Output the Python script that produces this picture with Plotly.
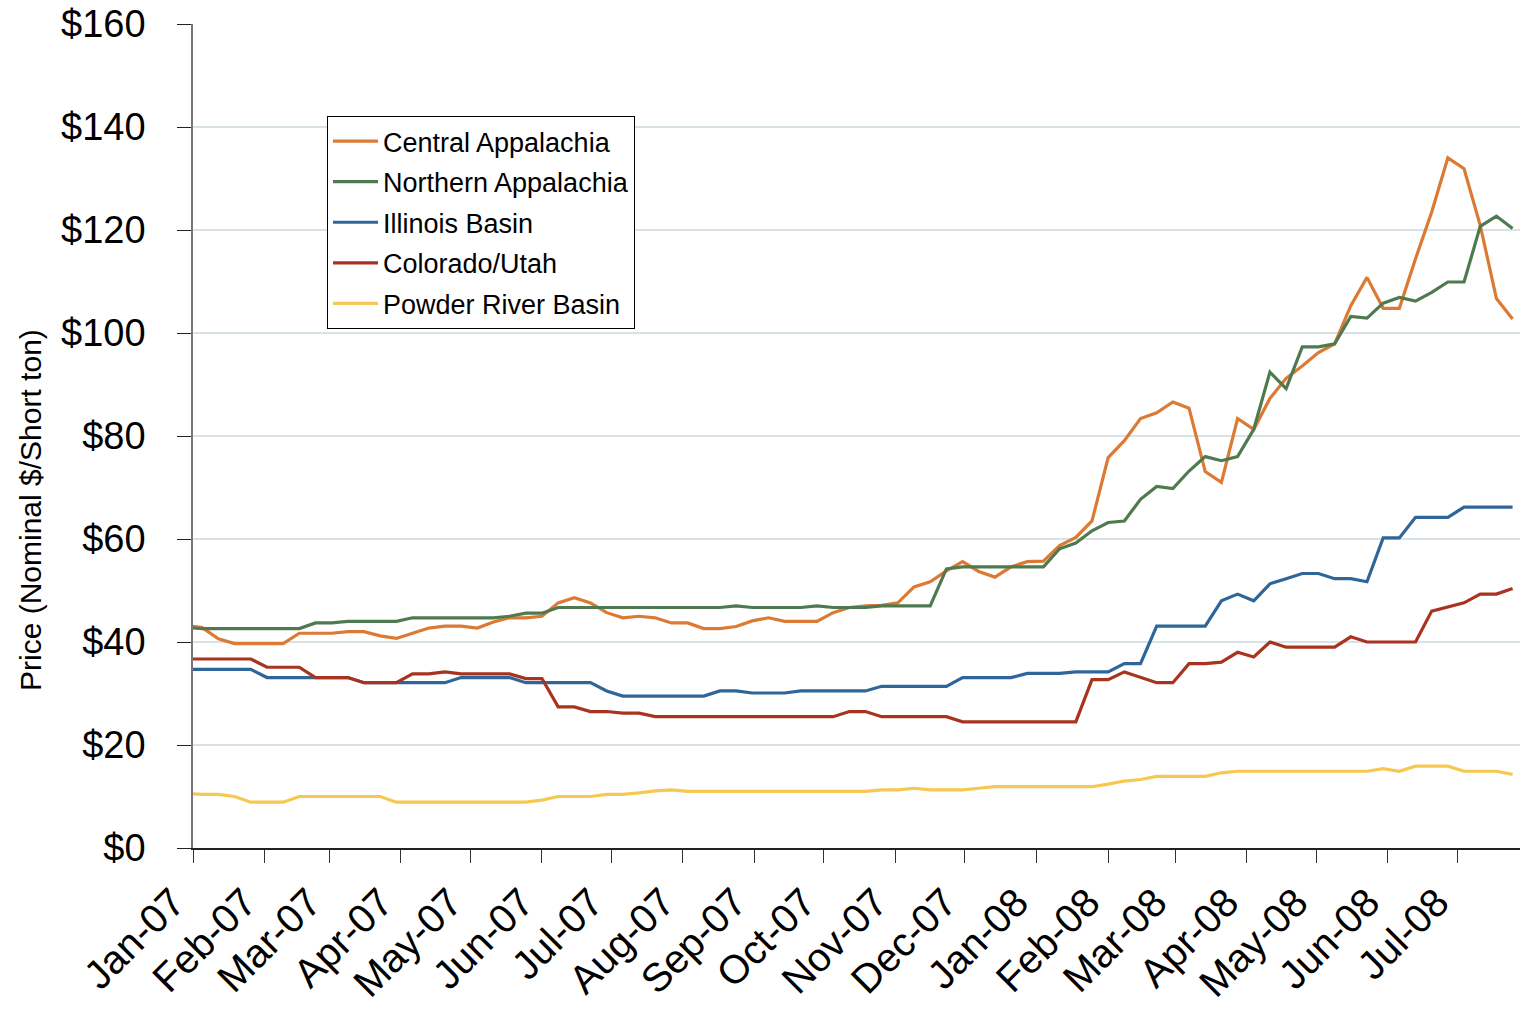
import pandas as pd
import plotly.graph_objects as go

# Weekly observation dates (Fridays)
week_dates = pd.date_range(start="2006-12-29", periods=83, freq="7D")

tick_dates = pd.date_range(start="2007-01-01", end="2008-07-01", freq="MS")
tick_labels = ["Jan-07", "Feb-07", "Mar-07", "Apr-07", "May-07", "Jun-07", "Jul-07",
               "Aug-07", "Sep-07", "Oct-07", "Nov-07", "Dec-07", "Jan-08", "Feb-08",
               "Mar-08", "Apr-08", "May-08", "Jun-08", "Jul-08"]

central_appalachia = [
    43.2, 42.8, 40.6, 39.7, 39.7, 39.7, 39.7, 41.7, 41.7, 41.7,
    42.0, 42.0, 41.2, 40.7, 41.7, 42.7, 43.1, 43.1, 42.7, 43.9,
    44.7, 44.7, 45.0, 47.6, 48.6, 47.6, 45.7, 44.7, 45.0, 44.7,
    43.7, 43.7, 42.6, 42.6, 43.0, 44.1, 44.7, 44.0, 44.0, 44.0,
    45.7, 46.7, 47.0, 47.1, 47.6, 50.7, 51.7, 53.8, 55.6, 53.7,
    52.6, 54.6, 55.6, 55.7, 58.7, 60.3, 63.5, 75.8, 79.1, 83.4,
    84.5, 86.6, 85.4, 73.1, 71.0, 83.4, 81.3, 87.3, 91.2, 93.6,
    96.2, 97.9, 105.3, 110.8, 104.8, 104.8, 114.4, 123.5, 134.0, 131.9,
    120.9, 106.7, 102.7]

northern_appalachia = [
    42.8, 42.6, 42.6, 42.6, 42.6, 42.6, 42.6, 42.6, 43.7, 43.7,
    44.0, 44.0, 44.0, 44.0, 44.7, 44.7, 44.7, 44.7, 44.7, 44.7,
    45.0, 45.6, 45.6, 46.7, 46.7, 46.7, 46.7, 46.7, 46.7, 46.7,
    46.7, 46.7, 46.7, 46.7, 47.0, 46.7, 46.7, 46.7, 46.7, 47.0,
    46.7, 46.7, 46.7, 47.0, 47.0, 47.0, 47.0, 54.2, 54.6, 54.6,
    54.6, 54.6, 54.6, 54.6, 58.1, 59.2, 61.6, 63.2, 63.5, 67.7,
    70.2, 69.8, 73.2, 76.0, 75.2, 76.0, 81.3, 92.4, 89.2, 97.3,
    97.3, 97.9, 103.2, 102.9, 105.8, 106.9, 106.2, 107.9, 109.9, 109.9,
    120.7, 122.7, 120.3]

illinois_basin = [
    34.7, 34.7, 34.7, 34.7, 34.7, 33.1, 33.1, 33.1, 33.1, 33.1,
    33.1, 32.1, 32.1, 32.1, 32.1, 32.1, 32.1, 33.1, 33.1, 33.1,
    33.1, 32.1, 32.1, 32.1, 32.1, 32.1, 30.5, 29.5, 29.5, 29.5,
    29.5, 29.5, 29.5, 30.5, 30.5, 30.1, 30.1, 30.1, 30.5, 30.5,
    30.5, 30.5, 30.5, 31.4, 31.4, 31.4, 31.4, 31.4, 33.1, 33.1,
    33.1, 33.1, 33.9, 33.9, 33.9, 34.2, 34.2, 34.2, 35.8, 35.8,
    43.1, 43.1, 43.1, 43.1, 48.0, 49.3, 48.0, 51.3, 52.3, 53.3,
    53.3, 52.3, 52.3, 51.7, 60.2, 60.2, 64.2, 64.2, 64.2, 66.2,
    66.2, 66.2, 66.2]

colorado_utah = [
    36.7, 36.7, 36.7, 36.7, 36.7, 35.1, 35.1, 35.1, 33.1, 33.1,
    33.1, 32.1, 32.1, 32.1, 33.8, 33.8, 34.2, 33.8, 33.8, 33.8,
    33.8, 32.9, 32.9, 27.4, 27.4, 26.5, 26.5, 26.2, 26.2, 25.5,
    25.5, 25.5, 25.5, 25.5, 25.5, 25.5, 25.5, 25.5, 25.5, 25.5,
    25.5, 26.5, 26.5, 25.5, 25.5, 25.5, 25.5, 25.5, 24.5, 24.5,
    24.5, 24.5, 24.5, 24.5, 24.5, 24.5, 32.7, 32.7, 34.2, 33.1,
    32.1, 32.1, 35.8, 35.8, 36.1, 38.0, 37.1, 40.0, 39.0, 39.0,
    39.0, 39.0, 41.0, 40.0, 40.0, 40.0, 40.0, 46.0, 46.8, 47.6,
    49.3, 49.3, 50.4]

powder_river_basin = [
    10.6, 10.4, 10.4, 10.0, 8.9, 8.9, 8.9, 10.0, 10.0, 10.0,
    10.0, 10.0, 10.0, 8.9, 8.9, 8.9, 8.9, 8.9, 8.9, 8.9,
    8.9, 8.9, 9.3, 10.0, 10.0, 10.0, 10.4, 10.4, 10.7, 11.1,
    11.3, 11.0, 11.0, 11.0, 11.0, 11.0, 11.0, 11.0, 11.0, 11.0,
    11.0, 11.0, 11.0, 11.3, 11.3, 11.6, 11.3, 11.3, 11.3, 11.6,
    11.9, 11.9, 11.9, 11.9, 11.9, 11.9, 11.9, 12.4, 13.0, 13.3,
    13.9, 13.9, 13.9, 13.9, 14.6, 14.9, 14.9, 14.9, 14.9, 14.9,
    14.9, 14.9, 14.9, 14.9, 15.4, 14.9, 15.9, 15.9, 15.9, 14.9,
    14.9, 14.9, 14.3]

series_names = ["Central Appalachia", "Northern Appalachia", "Illinois Basin",
                "Colorado/Utah", "Powder River Basin"]
series_values = [central_appalachia, northern_appalachia, illinois_basin,
                 colorado_utah, powder_river_basin]
series_colors = ["#DC7A34", "#4F7A4F", "#2F6699", "#A8341F", "#F7C851"]

fig = go.Figure()
for i, (name, vals, col) in enumerate(zip(series_names, series_values, series_colors)):
    fig.add_trace(go.Scatter(
        x=week_dates, y=vals, name=name, mode="lines",
        line=dict(color=col, width=3.2), legendgroup=f"g{i}"))

PLOT_W = 1327
PLOT_H = 824

fig.update_layout(
    width=1520, height=1010,
    margin=dict(l=193, r=0, t=24, b=162, autoexpand=False),
    plot_bgcolor="white", paper_bgcolor="white",
    font=dict(family="Liberation Sans, Arial, sans-serif", color="black"),
    showlegend=True,
    legend=dict(
        x=(327 - 193) / PLOT_W, y=(848 - 116) / PLOT_H,
        xanchor="left", yanchor="top",
        bgcolor="white", bordercolor="black", borderwidth=1,
        font=dict(size=27, color="black"),
        traceorder="grouped", tracegroupgap=2.5,
        itemwidth=45,
    ),
    annotations=[dict(
        text="Price (Nominal $/Short ton)", textangle=-90,
        xref="paper", yref="paper",
        x=(30 - 193) / PLOT_W, y=(848 - 510) / PLOT_H,
        xanchor="center", yanchor="middle", showarrow=False,
        font=dict(size=30, color="black"))],
)

fig.update_xaxes(
    type="date", automargin=False,
    range=["2007-01-01", "2008-07-28 05:00"],
    tickmode="array", tickvals=tick_dates, ticktext=tick_labels,
    tickangle=-45, tickfont=dict(size=40, color="black"),
    ticks="outside", ticklen=13, tickcolor="#333", tickwidth=1,
    ticklabelstandoff=0, ticklabelshift=-20,
    ticklabeloverflow="allow",
    showline=True, linecolor="#222", linewidth=1.5,
    showgrid=False, zeroline=False,
)

fig.update_yaxes(
    automargin=False,
    range=[0, 160], dtick=20, tick0=0,
    tickprefix="$", tickfont=dict(size=38, color="black"),
    ticks="outside", ticklen=14, tickcolor="#222", tickwidth=1,
    ticklabelstandoff=24, ticklabeloverflow="allow",
    showline=True, linecolor="#777", linewidth=1.5,
    showgrid=True, gridcolor="#D8E3E7", gridwidth=1.5,
    zeroline=False,
)

fig.write_html("out.html",
               config={"displayModeBar": False},
               post_script="document.body.style.margin='0';document.body.style.overflow='hidden';")
